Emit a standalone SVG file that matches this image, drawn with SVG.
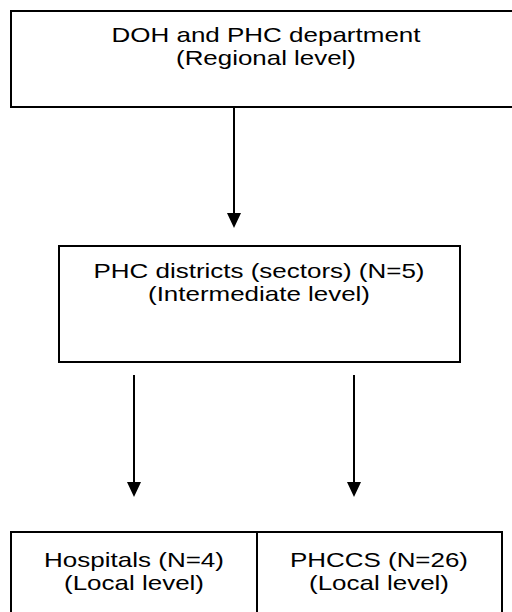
<svg xmlns="http://www.w3.org/2000/svg" width="512" height="612" viewBox="0 0 512 612">
<style>
.box{fill:#fff;stroke:#000;stroke-width:2}
.t{font-family:"Liberation Sans",Arial,sans-serif;font-size:21px;fill:#000;text-anchor:middle}
.c{stroke:#000;stroke-width:2;fill:none}
.ah{fill:#000}
</style>
<rect width="512" height="612" fill="#fff"/>
<g id="connectors">
<line class="c" x1="234" y1="107" x2="234" y2="213"/>
<path class="ah" d="M227,213 L241,213 L234,228 Z"/>
<line class="c" x1="134" y1="375" x2="134" y2="482"/>
<path class="ah" d="M127,482 L141,482 L134,497 Z"/>
<line class="c" x1="354" y1="375" x2="354" y2="482"/>
<path class="ah" d="M347,482 L361,482 L354,497 Z"/>
</g>
<g id="node-doh">
<rect class="box" x="11" y="11" width="520" height="96"/>
<text class="t" x="266" y="42" textLength="309" lengthAdjust="spacingAndGlyphs">DOH and PHC department</text>
<text class="t" x="266" y="65" textLength="180" lengthAdjust="spacingAndGlyphs">(Regional level)</text>
</g>
<g id="node-districts">
<rect class="box" x="59" y="246" width="401" height="116"/>
<text class="t" x="259" y="278" textLength="331" lengthAdjust="spacingAndGlyphs">PHC districts (sectors) (N=5)</text>
<text class="t" x="259" y="301" textLength="222" lengthAdjust="spacingAndGlyphs">(Intermediate level)</text>
</g>
<g id="node-hospitals">
<rect class="box" x="11" y="532" width="246" height="100"/>
<text class="t" x="134" y="567" textLength="180" lengthAdjust="spacingAndGlyphs">Hospitals (N=4)</text>
<text class="t" x="134" y="590" textLength="140" lengthAdjust="spacingAndGlyphs">(Local level)</text>
</g>
<g id="node-phccs">
<rect class="box" x="257" y="532" width="245" height="100"/>
<text class="t" x="379" y="567" textLength="178" lengthAdjust="spacingAndGlyphs">PHCCS (N=26)</text>
<text class="t" x="379" y="590" textLength="140" lengthAdjust="spacingAndGlyphs">(Local level)</text>
</g>
</svg>
